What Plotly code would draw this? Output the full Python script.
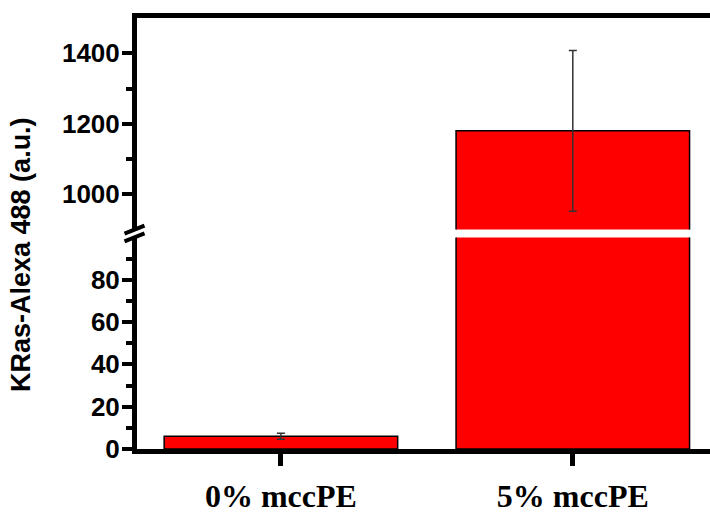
import plotly.graph_objects as go

categories = ["0% mccPE", "5% mccPE"]
values = [6.0, 1180.0]
errors = [1.4, 228.0]

lower_ticks = [0, 20, 40, 60, 80]
lower_minor = [10, 30, 50, 70, 90]
upper_ticks = [1000, 1200, 1400]
upper_minor = [1100, 1300]
lower_range = [0, 100]
upper_range = [900, 1500]
y_title = "KRas-Alexa 488 (a.u.)"

W, H = 710, 512
ml, mr, mt, mb = 137, 0, 18, 63
lower_dom = [0, 0.491]
upper_dom = [0.509, 1]

bar_style = dict(
    marker=dict(color="#ff0000", line=dict(color="black", width=1.5)),
    width=0.8,
    error_y=dict(type="data", array=errors, color="#333333", thickness=1.5, width=4),
    showlegend=False,
)

fig = go.Figure()
fig.add_trace(go.Bar(x=categories, y=values, xaxis="x", yaxis="y", **bar_style))
fig.add_trace(go.Bar(x=categories, y=values, xaxis="x2", yaxis="y2", **bar_style))

yfont = dict(family="Liberation Sans, Arial", size=26, color="black", weight="bold")
common_y = dict(showline=True, linewidth=5, linecolor="black", ticks="outside",
                ticklen=10, tickwidth=4, tickcolor="black", showgrid=False,
                zeroline=False, tickfont=yfont, ticklabelstandoff=-3, automargin=False)

xr = [-0.493, 1.47]
fig.update_layout(
    width=W, height=H,
    margin=dict(l=ml, r=mr, t=mt, b=mb),
    plot_bgcolor="white", paper_bgcolor="white",
    bargap=0.2,
    xaxis=dict(domain=[0, 1], range=xr, anchor="y", type="category",
               showline=True, linewidth=5, linecolor="black", ticks="outside",
               ticklen=12, tickwidth=5, tickcolor="black", showgrid=False,
               ticklabelstandoff=3, automargin=False,
               tickfont=dict(family="Liberation Serif, Times New Roman", size=32,
                             color="black", weight="bold")),
    xaxis2=dict(domain=[0, 1], range=xr, anchor="y2", type="category",
                matches="x", side="top", showline=True, linewidth=5, linecolor="black",
                ticks="", showticklabels=False, showgrid=False, automargin=False),
    yaxis=dict(domain=lower_dom, range=lower_range, anchor="x", tickvals=lower_ticks,
               minor=dict(tickvals=lower_minor, ticks="outside", ticklen=6, tickwidth=4,
                          tickcolor="black"),
               **common_y),
    yaxis2=dict(domain=upper_dom, range=upper_range, anchor="x2", tickvals=upper_ticks,
                minor=dict(tickvals=upper_minor, ticks="outside", ticklen=6, tickwidth=4,
                           tickcolor="black"),
                **common_y),
)

plot_w = W - ml - mr
plot_h = H - mt - mb

# axis break marks
dx = 10 / plot_w
dy = 4 / plot_h
ax_x = -2.5 / plot_w
for yb in (lower_dom[1], upper_dom[0]):
    fig.add_shape(type="line", xref="paper", yref="paper",
                  x0=ax_x - dx, y0=yb - dy, x1=ax_x + dx, y1=yb + dy,
                  line=dict(color="black", width=4))

fig.add_annotation(text=y_title, textangle=-90, xref="paper", yref="paper",
                   x=(21 - ml) / plot_w, y=(H - mb - 255) / plot_h,
                   xanchor="center", yanchor="middle", showarrow=False,
                   font=dict(family="Liberation Sans, Arial", size=27, color="black",
                             weight="bold"))

fig.write_html("out.html", config={"displayModeBar": False},
               post_script="document.body.style.margin='0';document.body.style.overflow='hidden';")
